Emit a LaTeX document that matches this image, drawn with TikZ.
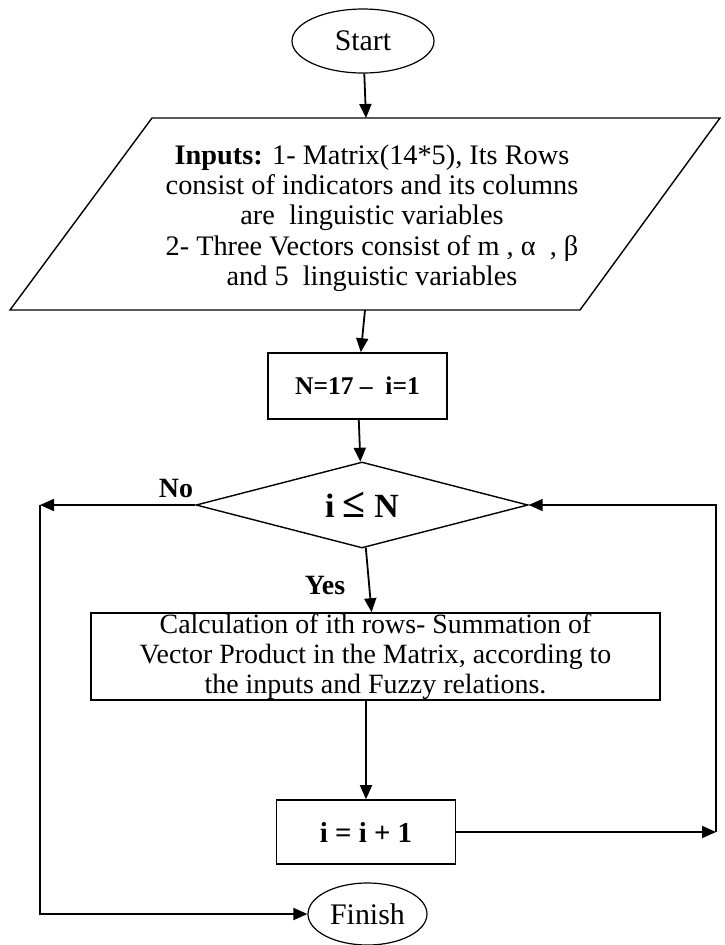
\documentclass[tikz,border=0pt]{standalone}
\usepackage{fontspec}
\setmainfont{Liberation Serif}
\usetikzlibrary{shapes.geometric,arrows.meta}
\tikzset{>={Triangle[length=7bp,width=6bp]}}
\tikzset{every node/.style={align=center}}
\tikzset{flowbox/.style={draw,line width=0.8bp,inner sep=0pt}}
\tikzset{terminal/.style={draw,ellipse,line width=0.6bp,inner sep=0pt,font=\fontsize{15}{18}\selectfont}}
\tikzset{answer/.style={font=\bfseries\fontsize{14}{16}\selectfont}}

\begin{document}
\begin{tikzpicture}[x=0.5bp,y=-0.5bp,line width=0.9bp,font=\fontsize{14}{15}\selectfont]
\useasboundingbox (0,0) rectangle (725,945);

\node[terminal,minimum width=71bp,minimum height=32bp] (start) at (363,41) {Start};
\node[font=\fontsize{14.2}{15.2}\selectfont] (inputs) at (372,218) {\textbf{Inputs:} 1- Matrix(14*5), Its Rows\\ consist of indicators and its columns\\ are\ \ linguistic variables\\ 2- Three Vectors consist of m , α\ \ , β\\ and 5\ \ linguistic variables};
\draw[line width=0.7bp] (152,118) -- (720,118) -- (580,310) -- (10,310) -- cycle;
\coordinate (intop) at (366,118);
\coordinate (inbot) at (365,310);
\node[flowbox,minimum width=89.5bp,minimum height=33bp,font=\bfseries\fontsize{12.8}{15}\selectfont] (init) at (357.5,386) {N=17 --\ \ i=1};
\node[draw,diamond,aspect=3.86,minimum width=166bp,minimum height=43bp,inner sep=0pt,line width=0.7bp,font=\bfseries\fontsize{17}{19}\selectfont] (test) at (362,505) {i {\fontsize{21}{21}\selectfont ≤} N};
\node[answer] (no) at (176,488) {No};
\node[answer] (yes) at (325,585) {Yes};
\node[flowbox,minimum width=284.5bp,minimum height=43.5bp] (calc) at (375.5,656.5) {Calculation of ith rows- Summation of\\ Vector Product in the Matrix, according to\\ the inputs and Fuzzy relations.};
\node[flowbox,minimum width=89.5bp,minimum height=32bp,font=\bfseries\fontsize{14.5}{16}\selectfont] (incr) at (366,832) {i = i + 1};
\node[terminal,minimum width=59.5bp,minimum height=31bp] (finish) at (367.5,914) {Finish};
\coordinate (leftturn) at (40,505);
\coordinate (rightturn) at (716,832);

\draw[->] (start) to (intop);
\draw[->] (inbot) to (init);
\draw[->] (init) to (test);
\draw[->] (test) to (calc);
\draw[->] (calc.south -| incr.north) to (incr.north);
\draw[->] (incr) to (rightturn);
\draw[->] (rightturn) |- (test.east);
\draw[->] (test.west) to (leftturn);
\draw[->] (leftturn) |- (finish.west);
\end{tikzpicture}
\end{document}
